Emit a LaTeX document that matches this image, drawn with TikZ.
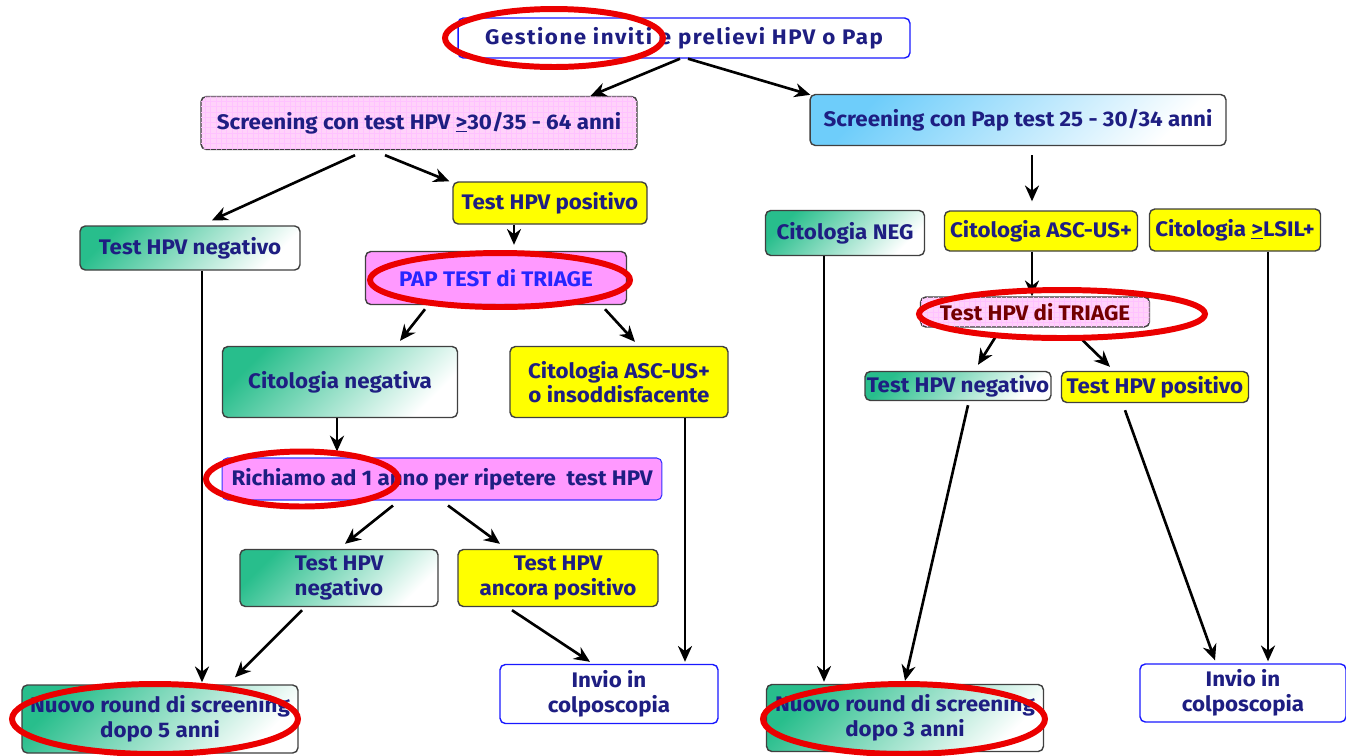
\documentclass[tikz,border=0pt]{standalone}
\usepackage{fontspec}
\setmainfont{Fira Sans}[FakeStretch=1.06]
\usepackage{tikz}
\usetikzlibrary{arrows.meta}
\usetikzlibrary{calc}
\usetikzlibrary{patterns}
\usepackage{xcolor}
\definecolor{ColText}{RGB}{30,30,130}
\definecolor{ColGreen}{RGB}{40,190,140}
\definecolor{ColSky}{RGB}{110,205,250}
\definecolor{ColYel}{RGB}{255,255,0}
\definecolor{ColMag}{RGB}{255,153,255}
\definecolor{ColPink}{RGB}{255,210,250}
\definecolor{ColRing}{RGB}{235,0,0}
\tikzstyle{BoxBase}=[rounded corners=3pt,draw=black!75,line width=0.8pt,align=center,
text=ColText,font=\fontsize{12}{14}\selectfont\bfseries,inner sep=1pt]
\tikzstyle{BoxGreen}=[BoxBase,top color=ColGreen,bottom color=white,shading angle=45]
\tikzstyle{BoxSky}=[BoxBase,top color=ColSky,bottom color=white,shading angle=45]
\tikzstyle{BoxYel}=[BoxBase,fill=ColYel]
\tikzstyle{BoxMag}=[BoxBase,fill=ColMag]
\tikzstyle{BoxGrid}=[BoxBase,fill=ColPink,postaction={pattern=grid,pattern color=ColMag!60}]
\tikzstyle{BoxBlue}=[BoxBase,draw=blue!90,fill=white]
\tikzstyle{EdgeArrow}=[black,line width=1.5pt,-{Stealth[length=9pt,width=8pt]}]
\tikzstyle{RedRing}=[ColRing,line width=3.4pt]

\begin{document}
\begin{tikzpicture}[x=0.02cm,y=-0.02cm]
        \useasboundingbox(0,0)rectangle(1346,755);
        % top
        \node[BoxBlue,minimum width=9.04cm,minimum height=0.8cm,font=\fontsize{12}{14}\selectfont\bfseries\addfontfeature{LetterSpace=7}](gest)at(684,38){Gestione inviti e prelievi HPV o Pap};
        \node[BoxGrid,minimum width=8.72cm,minimum height=1.06cm](scrhpv)at(419,123){Screening con test HPV \underline{>}30/35 - 64 anni};
        \node[BoxSky,minimum width=8.32cm,minimum height=1.02cm](scrpap)at(1018,120){Screening con Pap test 25 - 30/34 anni};
        % HPV branch
        \node[BoxYel,minimum width=3.88cm,minimum height=0.84cm](posl)at(550,203){Test HPV positivo};
        \node[BoxGreen,minimum width=4.4cm,minimum height=0.88cm](negl)at(190,248){Test HPV negativo};
        \node[BoxMag,minimum width=5.22cm,minimum height=1.06cm,text=blue!85](paptri)at(496,278){PAP TEST di TRIAGE};
        \node[BoxGreen,minimum width=4.7cm,minimum height=1.42cm](citneg)at(340,382){Citologia negativa};
        \node[BoxYel,minimum width=4.36cm,minimum height=1.42cm](citasc)at(619,382){Citologia ASC-US+\\ o insoddisfacente};
        \node[BoxMag,draw=blue!80,line width=0.6pt,minimum width=8.8cm,minimum height=0.84cm](rich)at(442,479){Richiamo ad 1 anno per ripetere\ \ test HPV};
        \node[BoxGreen,minimum width=3.96cm,minimum height=1.14cm](negtwo)at(339,578){Test HPV\\negativo};
        \node[BoxYel,minimum width=4.0cm,minimum height=1.14cm](postwo)at(558,578){Test HPV\\ancora positivo};
        \node[BoxGreen,minimum width=5.52cm,minimum height=1.36cm](nuovof)at(160,719){Nuovo round di screening\\dopo 5 anni};
        \node[BoxBlue,minimum width=4.36cm,minimum height=1.18cm](inviol)at(609,694){Invio in\\colposcopia};
        % Pap branch
        \node[BoxGreen,minimum width=3.18cm,minimum height=0.9cm](citNEG)at(845,233){Citologia NEG};
        \node[BoxYel,minimum width=3.86cm,minimum height=0.8cm](citASC)at(1041,231){Citologia ASC-US+};
        \node[BoxYel,minimum width=3.42cm,minimum height=0.84cm](citLSIL)at(1235,230){Citologia \underline{>}LSIL+};
        \node[BoxGrid,minimum width=4.58cm,minimum height=0.6cm,text=red!45!black](hpvtri)at(1035,312){Test HPV di TRIAGE};
        \node[BoxGreen,minimum width=3.72cm,minimum height=0.58cm](negr)at(958,386){Test HPV negativo};
        \node[BoxYel,minimum width=3.74cm,minimum height=0.62cm](posr)at(1155,387){Test HPV positivo};
        \node[BoxGreen,minimum width=5.54cm,minimum height=1.34cm](nuovot)at(905,718){Nuovo round di screening\\dopo 3 anni};
        \node[BoxBlue,minimum width=4.12cm,minimum height=1.16cm](invior)at(1243,693){Invio in\\colposcopia};
        % arrows
        \draw[EdgeArrow]($(gest.south)+(-4,0)$)--($(scrhpv.north east)+(-47,0)$);
        \draw[EdgeArrow]($(gest.south)+(4,0)$)--($(scrpap.north west)+(1,1)$);
        \draw[EdgeArrow]($(scrhpv.south)+(-64,5)$)--($(negl.north)+(22,-5)$);
        \draw[EdgeArrow]($(scrhpv.south)+(-34,5)$)--($(posl.north west)+(-3,0)$);
        \draw[EdgeArrow]($(posl.south)+(-36,0)$)--($(paptri.north)+(18,-6)$);
        \draw[EdgeArrow]($(negl.south)+(12,0)$)--($(nuovof.north)+(42,-2)$);
        \draw[EdgeArrow]($(paptri.south)+(-71,4)$)--($(citneg.north)+(60,-5)$);
        \draw[EdgeArrow]($(paptri.south)+(109,4)$)--($(citasc.north)+(16,-4)$);
        \draw[EdgeArrow]($(citneg.south)+(-3,0)$)--($(rich.north)+(-105,-6)$);
        \draw[EdgeArrow]($(citasc.south)+(66,0)$)--($(inviol.north)+(76,-2)$);
        \draw[EdgeArrow]($(rich.south)+(-49,5)$)--($(negtwo.north)+(6,-5)$);
        \draw[EdgeArrow]($(rich.south)+(6,5)$)--($(postwo.north)+(-58,-5)$);
        \draw[EdgeArrow]($(negtwo.south)+(-37,3)$)--($(nuovof.north)+(75,-7)$);
        \draw[EdgeArrow]($(postwo.south)+(-46,3)$)--($(inviol.north)+(-19,-2)$);
        \draw[EdgeArrow]($(scrpap.south)+(14,9)$)--($(citASC.north)+(-9,-9)$);
        \draw[EdgeArrow]($(citASC.south)+(-9,0)$)--($(hpvtri.north)+(-3,0)$);
        \draw[EdgeArrow]($(citNEG.south)+(-21,0)$)--($(nuovot.north)+(-81,-2)$);
        \draw[EdgeArrow]($(citLSIL.south)+(33,0)$)--($(invior.north)+(25,-2)$);
        \draw[EdgeArrow]($(hpvtri.south)+(-40,10)$)--($(negr.north)+(20,-6)$);
        \draw[EdgeArrow]($(hpvtri.south)+(45,10)$)--($(posr.north)+(-45,-4)$);
        \draw[EdgeArrow]($(negr.south)+(10,4)$)--($(nuovot.north)+(0,-3)$);
        \draw[EdgeArrow]($(posr.south)+(-30,7)$)--($(invior.north)+(-28,-3)$);
        % red rings
        \draw[RedRing](554,38)ellipse[x radius=2.18cm,y radius=0.58cm];
        \draw[RedRing](500,280)ellipse[x radius=2.6cm,y radius=0.54cm];
        \draw[RedRing](302,479)ellipse[x radius=1.92cm,y radius=0.55cm];
        \draw[RedRing](155,719)ellipse[x radius=2.86cm,y radius=0.7cm];
        \draw[RedRing](1062,314)ellipse[x radius=2.86cm,y radius=0.48cm];
        \draw[RedRing](904,719)ellipse[x radius=2.82cm,y radius=0.7cm];
    \end{tikzpicture}
\end{document}
